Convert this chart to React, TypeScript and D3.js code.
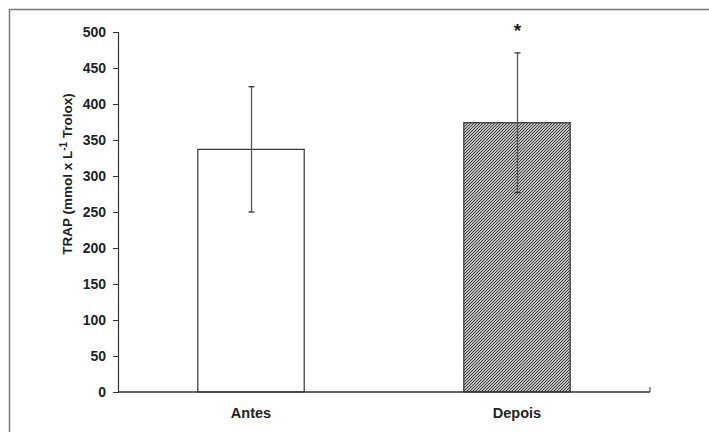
import React, { useEffect, useRef } from "react";
import * as d3 from "d3";

const categories = ["Antes", "Depois"];
const means = [337, 374];
const errLow = [250, 277];
const errHigh = [424, 471];
const marks = ["", "*"];
const yTicks = [0, 50, 100, 150, 200, 250, 300, 350, 400, 450, 500];
const yLabel = "TRAP (mmol x L";
const yLabelSup = "-1";
const yLabelEnd = " Trolox)";

const App = () => {
  const ref = useRef<SVGSVGElement | null>(null);

  useEffect(() => {
    const svg = d3.select(ref.current);
    svg.selectAll("*").remove();

    const width = 709;
    const height = 432;
    const margin = { left: 118, right: 59, top: 32, bottom: 40 };
    const font = "Liberation Sans, Arial, sans-serif";

    const x = d3.scaleBand()
      .domain(categories)
      .range([margin.left, width - margin.right])
      .paddingInner(0.6)
      .paddingOuter(0.3);

    const y = d3.scaleLinear()
      .domain([0, 500])
      .range([height - margin.bottom, margin.top]);

    // hatch pattern
    const defs = svg.append("defs");
    const pat = defs.append("pattern")
      .attr("id", "hatch")
      .attr("patternUnits", "userSpaceOnUse")
      .attr("width", 3)
      .attr("height", 3);
    pat.append("rect").attr("width", 3).attr("height", 3).attr("fill", "#fff");
    pat.append("path")
      .attr("d", "M-1,1 l2,-2 M0,3 l3,-3 M2,4 l2,-2")
      .attr("stroke", "#333")
      .attr("stroke-width", 1.2);

    // outer frame
    svg.append("rect")
      .attr("x", 9.5)
      .attr("y", 9.5)
      .attr("width", 720)
      .attr("height", 440)
      .attr("fill", "none")
      .attr("stroke", "#777")
      .attr("stroke-width", 1.5);

    // bars
    categories.forEach((c, i) => {
      const x0 = x(c)!;
      const bw = x.bandwidth();
      svg.append("rect")
        .attr("x", x0)
        .attr("y", y(means[i]))
        .attr("width", bw)
        .attr("height", y(0) - y(means[i]))
        .attr("fill", i === 0 ? "#fff" : "url(#hatch)")
        .attr("stroke", "#333")
        .attr("stroke-width", 1.2);

      const cx = Math.round(x0 + bw / 2) + 0.5;
      svg.append("line")
        .attr("x1", cx).attr("x2", cx)
        .attr("y1", y(errLow[i])).attr("y2", y(errHigh[i]))
        .attr("stroke", "#555").attr("stroke-width", 1.3);
      [errLow[i], errHigh[i]].forEach(v => {
        svg.append("line")
          .attr("x1", cx - 3).attr("x2", cx + 3)
          .attr("y1", y(v)).attr("y2", y(v))
          .attr("stroke", "#333").attr("stroke-width", 1.3);
      });

      if (marks[i]) {
        svg.append("text")
          .attr("x", cx)
          .attr("y", 37)
          .attr("text-anchor", "middle")
          .attr("font-family", font)
          .attr("font-weight", "bold")
          .attr("font-size", 19)
          .attr("fill", "#222")
          .text(marks[i]);
      }

      svg.append("text")
        .attr("x", x0 + bw / 2)
        .attr("y", 418)
        .attr("text-anchor", "middle")
        .attr("font-family", font)
        .attr("font-weight", "bold")
        .attr("font-size", 14.5)
        .attr("fill", "#222")
        .text(c);
    });

    // y axis
    const yAxis = svg.append("g")
      .attr("transform", `translate(${margin.left},0)`)
      .call(d3.axisLeft(y).tickValues(yTicks).tickSize(5).tickPadding(7));
    yAxis.select(".domain").attr("stroke", "#333").attr("stroke-width", 1.2);
    yAxis.selectAll(".tick line").attr("stroke", "#333");
    yAxis.selectAll("text")
      .attr("font-family", font)
      .attr("font-weight", "bold")
      .attr("font-size", 14)
      .attr("fill", "#222");

    // x axis line
    const x1 = width - margin.right;
    svg.append("line")
      .attr("x1", margin.left).attr("x2", x1)
      .attr("y1", y(0)).attr("y2", y(0))
      .attr("stroke", "#333").attr("stroke-width", 1.5);
    svg.append("line")
      .attr("x1", x1).attr("x2", x1)
      .attr("y1", y(0)).attr("y2", y(0) - 5)
      .attr("stroke", "#333");

    // y label
    const lbl = svg.append("text")
      .attr("transform", `translate(72,174) rotate(-90)`)
      .attr("text-anchor", "middle")
      .attr("font-family", font)
      .attr("font-weight", "bold")
      .attr("font-size", 13.5)
      .attr("fill", "#222");
    lbl.append("tspan").text(yLabel);
    lbl.append("tspan").attr("dy", -5).attr("font-size", 10).text(yLabelSup);
    lbl.append("tspan").attr("dy", 5).text(yLabelEnd);
  }, []);

  return (
    <svg
      ref={ref}
      width={709}
      height={432}
      style={{ position: "absolute", left: 0, top: 0, background: "#fff" }}
    />
  );
};

export default App;
